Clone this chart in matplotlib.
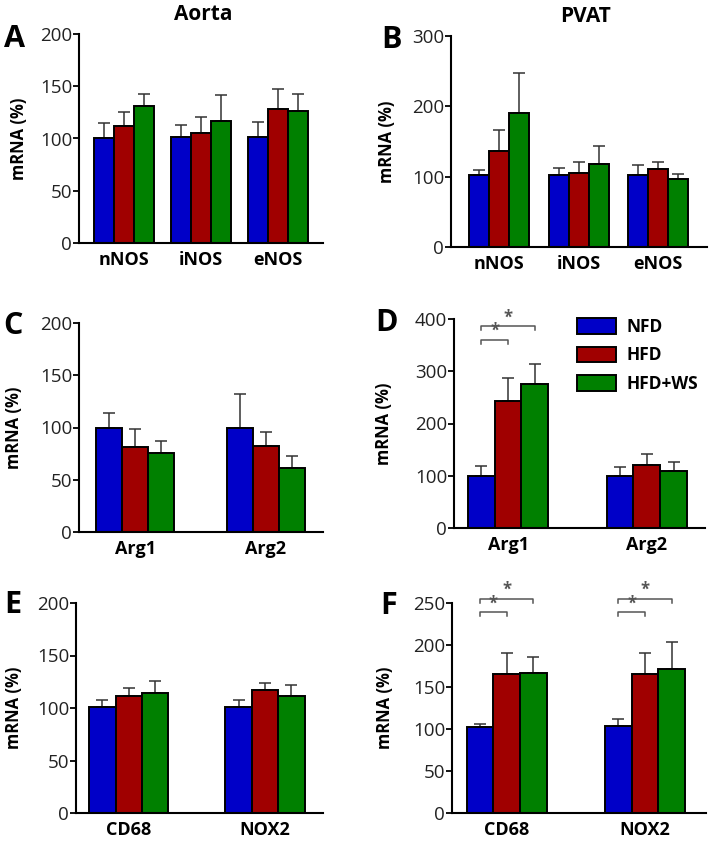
import matplotlib.pyplot as plt
import numpy as np

plt.rcParams['font.family'] = ['Open Sans', 'DejaVu Sans']

series = ['NFD', 'HFD', 'HFD+WS']
colors = ['#0000c8', '#a00000', '#008000']

# panel A - Aorta NOS
genes_A = ['nNOS', 'iNOS', 'eNOS']
mean_A = [[100, 101, 101], [112, 105, 128], [131, 117, 126]]
err_A = [[15, 12, 15], [13, 16, 19], [12, 25, 17]]

# panel B - PVAT NOS
genes_B = ['nNOS', 'iNOS', 'eNOS']
mean_B = [[102, 102, 102], [137, 105, 111], [190, 118, 97]]
err_B = [[7, 11, 15], [29, 16, 10], [58, 26, 7]]

# panel C - Aorta arginase
genes_C = ['Arg1', 'Arg2']
mean_C = [[100, 100], [81, 82], [76, 61]]
err_C = [[14, 32], [18, 14], [11, 12]]

# panel D - PVAT arginase
genes_D = ['Arg1', 'Arg2']
mean_D = [[100, 100], [244, 121], [276, 110]]
err_D = [[18, 16], [44, 21], [38, 17]]

# panel E - Aorta inflammation
genes_E = ['CD68', 'NOX2']
mean_E = [[101, 101], [111, 117], [114, 111]]
err_E = [[7, 7], [8, 7], [12, 11]]

# panel F - PVAT inflammation
genes_F = ['CD68', 'NOX2']
mean_F = [[102, 103], [165, 165], [167, 172]]
err_F = [[4, 9], [26, 26], [19, 31]]

W, H = 709, 842
fig = plt.figure(figsize=(W / 100, H / 100), dpi=100)


def px_axes(l, t, r, b):
    return fig.add_axes([l / W, 1 - b / H, (r - l) / W, (b - t) / H])


def bar_panel(ax, genes, means, errs, ymax, ystep, width, xlim, lab_x):
    x = np.arange(len(genes))
    for i in range(3):
        pos = x + (i - 1) * width
        ax.bar(pos, means[i], width, color=colors[i], edgecolor='black',
               linewidth=1.4, zorder=2)
        ax.errorbar(pos, means[i], yerr=[np.zeros(len(genes)), errs[i]],
                    fmt='none', ecolor='#333333', elinewidth=1.1,
                    capsize=4, capthick=1.1, zorder=1)
    ax.set_xlim(*xlim)
    ax.set_ylim(0, ymax)
    ax.set_yticks(np.arange(0, ymax + 1, ystep))
    ax.set_xticks(x)
    ax.set_xticklabels(genes, fontsize=13, fontweight='bold')
    ax.tick_params(axis='x', length=0, pad=6)
    ax.tick_params(axis='y', length=4, width=1.3, labelsize=13.5,
                   labelcolor='#222222', pad=1)
    for s in ['top', 'right']:
        ax.spines[s].set_visible(False)
    for s in ['left', 'bottom']:
        ax.spines[s].set_linewidth(1.5)
    ax.set_ylabel('mRNA (%)', fontsize=12, fontweight='bold')
    ax.yaxis.set_label_coords(lab_x, 0.5)
    return x


def bracket(ax, x1, x2, y, drop):
    ax.plot([x1, x1, x2, x2], [y - drop, y, y, y - drop], color='#555555',
            lw=1.1, clip_on=False, zorder=3)
    ax.text((x1 + x2) / 2, y, '*', ha='center', va='bottom', fontsize=12,
            fontweight='bold', color='#555555', clip_on=False)


axA = px_axes(79, 34, 323, 243)
bar_panel(axA, genes_A, mean_A, err_A, 200, 50, 0.26, (-0.58, 2.58), -0.21)
axB = px_axes(451, 36, 707, 247)
bar_panel(axB, genes_B, mean_B, err_B, 300, 100, 0.25, (-0.6, 2.61), -0.215)
axC = px_axes(79, 323, 323, 532)
bar_panel(axC, genes_C, mean_C, err_C, 200, 50, 0.2, (-0.432, 1.44), -0.23)
axD = px_axes(454, 319, 705, 528)
xD = bar_panel(axD, genes_D, mean_D, err_D, 400, 100, 0.193, (-0.39, 1.42), -0.245)
axE = px_axes(76, 603, 323, 813)
bar_panel(axE, genes_E, mean_E, err_E, 200, 50, 0.194, (-0.387, 1.426), -0.215)
axF = px_axes(452, 603, 706, 813)
xF = bar_panel(axF, genes_F, mean_F, err_F, 250, 50, 0.193, (-0.396, 1.44), -0.228)

# significance brackets
bracket(axD, xD[0] - 0.193, xD[0], 360, 8)
bracket(axD, xD[0] - 0.193, xD[0] + 0.193, 386, 8)
for g in xF:
    bracket(axF, g - 0.193, g, 239, 5)
    bracket(axF, g - 0.193, g + 0.193, 255, 5)

# legend
handles = [plt.Rectangle((0, 0), 1, 1, facecolor=c, edgecolor='black', linewidth=1.4)
           for c in colors]
fig.legend(handles, series, loc='upper left', bbox_to_anchor=(577 / W, 1 - 318 / H),
           frameon=False, borderpad=0, borderaxespad=0, handlelength=2.25,
           handleheight=1.0, labelspacing=0.6, handletextpad=0.6,
           prop={'size': 12.5, 'weight': 'bold'})

# column titles and panel letters
fig.text(203 / W, 1 - 14 / H, 'Aorta', ha='center', va='center', fontsize=15, fontweight='bold')
fig.text(586 / W, 1 - 16 / H, 'PVAT', ha='center', va='center', fontsize=15, fontweight='bold')
letters = [('A', 15, 39), ('B', 391, 40), ('C', 13, 326), ('D', 387, 323),
           ('E', 13, 605), ('F', 389, 606)]
for L, lx, ly in letters:
    fig.text(lx / W, 1 - ly / H, L, ha='center', va='center', fontsize=22, fontweight='bold')

fig.savefig('out.png', dpi=100)
